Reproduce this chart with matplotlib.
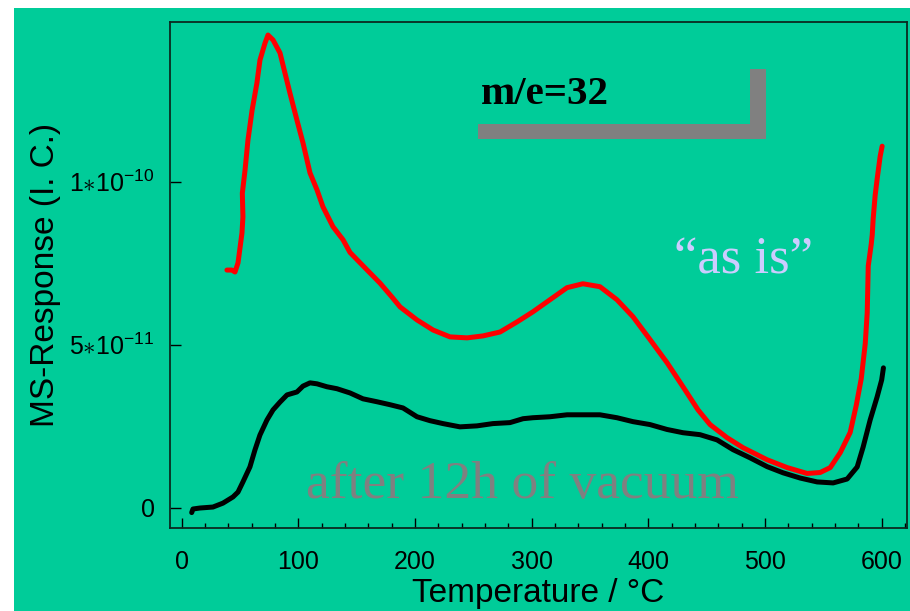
import matplotlib
matplotlib.use('Agg')
import matplotlib.pyplot as plt
from matplotlib.patches import Rectangle, Polygon
from matplotlib.ticker import MultipleLocator, FixedLocator, FixedFormatter

plt.rcParams['font.family'] = ['Liberation Sans', 'DejaVu Sans']
plt.rcParams['mathtext.fontset'] = 'custom'
plt.rcParams['mathtext.rm'] = 'Liberation Sans'
plt.rcParams['mathtext.it'] = 'Liberation Sans:italic'

# data (temperature in C, response in units of 1e-11)
as_is_t = [38.8, 43.1, 45.7, 48.3, 51.7, 52.5, 52.0, 54.3, 56.8, 60.3, 64.5, 67.1,
           71.4, 74.0, 78.3, 84.3, 88.5, 92.8, 98.8, 104.0, 110.0, 116.0, 121.1,
           129.7, 138.3, 144.3, 157.1, 170.0, 180.3, 187.2, 201.7, 215.5, 230.0,
           244.6, 258.3, 272.9, 287.5, 301.1, 315.7, 330.3, 343.9, 358.5, 373.1,
           386.8, 401.4, 416.0, 429.7, 442.6, 452.9, 467.4, 481.2, 501.8, 519.0,
           536.1, 547.3, 555.9, 564.5, 573.0, 578.2, 582.5, 585.9, 587.6, 588.5,
           591.0, 591.9, 592.7, 594.4, 596.1, 598.7, 600.4]
as_is_r = [7.29, 7.29, 7.23, 7.51, 8.43, 8.92, 9.65, 10.35, 11.27, 12.18, 13.03, 13.73,
           14.25, 14.50, 14.35, 13.95, 13.34, 12.72, 11.89, 11.19, 10.27, 9.75, 9.23,
           8.62, 8.22, 7.83, 7.36, 6.89, 6.46, 6.16, 5.76, 5.45, 5.24,
           5.21, 5.27, 5.39, 5.70, 6.01, 6.38, 6.75, 6.87, 6.78, 6.38,
           5.86, 5.16, 4.45, 3.71, 3.00, 2.55, 2.15, 1.84, 1.47, 1.23,
           1.05, 1.08, 1.23, 1.69, 2.31, 3.14, 3.96, 5.03, 5.98, 7.42,
           8.07, 8.37, 8.86, 9.58, 10.08, 10.78, 11.09]

vac_t = [8.6, 9.7, 15.7, 26.8, 35.4, 44.0, 48.3, 52.5, 58.5, 62.8, 67.1, 73.1, 78.3,
         84.3, 90.3, 98.8, 104.0, 110.0, 116.0, 124.5, 133.1, 144.3, 155.4, 167.4,
         178.5, 189.7, 201.7, 212.8, 224.0, 238.5, 253.1, 266.8, 281.4, 292.6,
         301.1, 315.7, 330.3, 343.9, 358.5, 373.1, 386.8, 401.4, 416.0, 429.7,
         444.3, 458.9, 472.6, 487.2, 501.8, 515.5, 530.1, 544.7, 558.4, 570.4,
         579.0, 584.1, 590.1, 596.1, 600.0, 601.5]
vac_r = [-0.15, -0.04, -0.01, 0.02, 0.14, 0.33, 0.48, 0.79, 1.25, 1.77, 2.23, 2.69, 3.00,
         3.24, 3.46, 3.55, 3.73, 3.83, 3.80, 3.71, 3.65, 3.52, 3.34, 3.25,
         3.16, 3.06, 2.79, 2.67, 2.58, 2.48, 2.51, 2.58, 2.61, 2.73,
         2.76, 2.79, 2.85, 2.85, 2.85, 2.76, 2.64, 2.55, 2.40, 2.30,
         2.24, 2.08, 1.78, 1.53, 1.26, 1.07, 0.91, 0.79, 0.76, 0.88,
         1.25, 1.86, 2.69, 3.40, 3.92, 4.29]

x_major = [0, 100, 200, 300, 400, 500, 600]
y_ticks = [0, 5e-11, 1e-10]
y_labels = ['0', r'$5{\ast}10^{-11}$', r'$1{\ast}10^{-10}$']

green = '#00CC99'
W, H = 910, 611

fig = plt.figure(figsize=(W / 100, H / 100), dpi=100, facecolor='white')
fig.patches.append(Rectangle((14 / W, 0), 1 - 14 / W, 1 - 8 / H,
                             transform=fig.transFigure, facecolor=green,
                             edgecolor='none', zorder=-10))

ax = fig.add_axes([170 / W, 1 - 528 / H, (907 - 170) / W, (528 - 22) / H])
ax.set_facecolor(green)

ax.plot(as_is_t, [v * 1e-11 for v in as_is_r], color='#FF0000', lw=3.6,
        solid_capstyle='round', solid_joinstyle='round')
ax.plot(vac_t, [v * 1e-11 for v in vac_r], color='black', lw=3.6,
        solid_capstyle='round', solid_joinstyle='round')

ax.set_xlim(-10, 621.7)
ax.set_ylim(-0.623e-11, 14.9e-11)

ax.xaxis.set_major_locator(FixedLocator(x_major))
ax.xaxis.set_minor_locator(MultipleLocator(20))
ax.yaxis.set_major_locator(FixedLocator(y_ticks))
ax.yaxis.set_major_formatter(FixedFormatter(y_labels))
ax.tick_params(axis='x', which='major', direction='in', length=7.5, width=1,
               labelsize=18, pad=16, top=False)
ax.tick_params(axis='x', which='minor', direction='in', length=3.6, width=1, top=False)
ax.tick_params(axis='y', which='major', direction='in', length=8, width=1,
               labelsize=18, pad=11, right=False)
for s in ax.spines.values():
    s.set_linewidth(1.3)
    s.set_color('#0a2a20')

ax.set_xlabel('Temperature / °C', fontsize=24, labelpad=3)
ax.set_ylabel('MS-Response (I. C.)', fontsize=24, labelpad=6)

# gray bracket next to the mass label
def fx(px):
    return px / W

def fy(py):
    return 1 - py / H

bracket = [(478, 124), (750, 124), (750, 69), (766, 69), (766, 139), (478, 139)]
fig.patches.append(Polygon([(fx(a), fy(b)) for a, b in bracket], closed=True,
                           transform=fig.transFigure, facecolor='#808080',
                           edgecolor='none'))

fig.text(fx(481), fy(104), 'm/e=32', fontsize=29.5, fontweight='bold',
         family='Liberation Serif', color='black', va='baseline', ha='left')
fig.text(fx(674), fy(273), '\u201cas is\u201d', fontsize=38,
         family='Liberation Serif', color='#CCCCFF', va='baseline', ha='left')
fig.text(fx(306), fy(498), 'after 12h of vacuum', fontsize=38.5,
         family='Liberation Serif', color='#808080', va='baseline', ha='left')

fig.savefig('out.png', dpi=100, facecolor=fig.get_facecolor())
